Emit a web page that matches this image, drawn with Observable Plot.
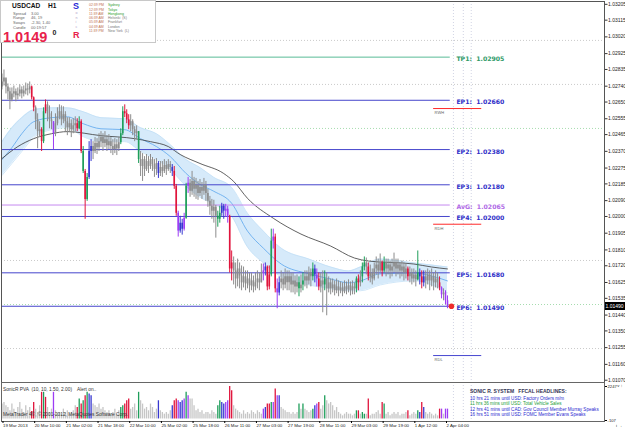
<!DOCTYPE html>
<html><head><meta charset="utf-8">
<script src="https://cdn.jsdelivr.net/npm/d3@7"></script>
<script src="https://cdn.jsdelivr.net/npm/@observablehq/plot@0.6"></script>
<style>
body{margin:0;background:#fff;}
#wrap{position:relative;width:625px;height:429px;overflow:hidden;background:#fff;font-family:"Liberation Sans",Arial,sans-serif;}
#wrap svg{position:absolute;left:0;}
.t{position:absolute;white-space:pre;line-height:1;}
</style></head><body><div id="wrap"></div>
<script>
// ---------------- DATA ----------------
const firstOpen = 1.02736;
const closes = [
1.02764,1.02787,1.02736,1.02708,1.02662,1.02696,1.02708,1.02685,1.02696,1.02719,
1.02696,1.02713,1.02724,1.02719,1.02736,1.02674,1.02617,1.02549,1.02482,1.02493,
1.02425,1.02595,1.02634,1.02583,1.02549,1.02538,1.02470,1.02527,1.02566,1.02595,
1.02549,1.02578,1.02538,1.02504,1.02527,1.02493,1.02515,1.02527,1.02498,1.02538,
1.02369,1.02256,1.02097,1.02222,1.02369,1.02397,1.02369,1.02414,1.02391,1.02425,
1.02448,1.02414,1.02436,1.02402,1.02425,1.02397,1.02380,1.02408,1.02385,1.02419,
1.02470,1.02595,1.02583,1.02549,1.02515,1.02538,1.02493,1.02470,1.02482,1.02323,
1.02284,1.02323,1.02267,1.02312,1.02284,1.02323,1.02295,1.02267,1.02301,1.02244,
1.02278,1.02256,1.02289,1.02267,1.02295,1.02278,1.02256,1.02171,1.02018,1.01917,
1.01962,1.01928,1.01990,1.02171,1.02188,1.02143,1.02199,1.02154,1.02176,1.02131,
1.02165,1.02143,1.02176,1.02131,1.02086,1.02058,1.02030,1.02052,1.02001,1.01984,
1.02018,1.02058,1.02030,1.02041,1.02001,1.01702,1.01736,1.01691,1.01645,1.01702,
1.01662,1.01623,1.01657,1.01617,1.01645,1.01606,1.01634,1.01600,1.01623,1.01645,
1.01623,1.01679,1.01691,1.01713,1.01600,1.01668,1.01860,1.01883,1.01589,1.01566,
1.01623,1.01645,1.01611,1.01657,1.01623,1.01657,1.01611,1.01634,1.01600,1.01623,
1.01589,1.01611,1.01634,1.01657,1.01634,1.01679,1.01657,1.01702,1.01668,1.01645,
1.01600,1.01634,1.01611,1.01645,1.01589,1.01623,1.01589,1.01611,1.01578,1.01600,
1.01578,1.01594,1.01572,1.01600,1.01583,1.01606,1.01578,1.01600,1.01589,1.01645,
1.01623,1.01657,1.01713,1.01736,1.01713,1.01657,1.01679,1.01645,1.01702,1.01724,
1.01691,1.01736,1.01691,1.01736,1.01702,1.01724,1.01691,1.01713,1.01736,1.01702,
1.01724,1.01691,1.01713,1.01679,1.01702,1.01657,1.01679,1.01645,1.01668,1.01640,
1.01679,1.01657,1.01623,1.01657,1.01634,1.01668,1.01634,1.01657,1.01623,1.01645,
1.01623,1.01594,1.01555,1.01566,1.01521,1.01490];
const highs = [
1.02809,1.02832,1.02775,1.02753,1.02730,1.02730,1.02741,1.02724,1.02730,1.02747,
1.02736,1.02741,1.02758,1.02753,1.02764,1.02741,1.02679,1.02628,1.02583,1.02538,
1.02504,1.02617,1.02662,1.02651,1.02628,1.02595,1.02538,1.02583,1.02617,1.02634,
1.02628,1.02623,1.02595,1.02561,1.02561,1.02549,1.02555,1.02566,1.02555,1.02566,
1.02549,1.02397,1.02267,1.02244,1.02425,1.02436,1.02425,1.02448,1.02442,1.02470,
1.02482,1.02470,1.02482,1.02459,1.02465,1.02448,1.02436,1.02442,1.02436,1.02448,
1.02498,1.02623,1.02634,1.02606,1.02578,1.02578,1.02549,1.02510,1.02515,1.02482,
1.02369,1.02357,1.02340,1.02352,1.02340,1.02352,1.02335,1.02323,1.02329,1.02312,
1.02312,1.02312,1.02323,1.02312,1.02323,1.02312,1.02295,1.02284,1.02182,1.02030,
1.02001,1.01984,1.02018,1.02188,1.02222,1.02210,1.02256,1.02222,1.02216,1.02199,
1.02210,1.02193,1.02216,1.02199,1.02154,1.02114,1.02097,1.02092,1.02063,1.02030,
1.02058,1.02075,1.02069,1.02069,1.02058,1.02007,1.01804,1.01770,1.01736,1.01758,
1.01736,1.01719,1.01713,1.01691,1.01691,1.01679,1.01679,1.01662,1.01679,1.01691,
1.01679,1.01730,1.01730,1.01736,1.01719,1.01719,1.01928,1.01928,1.01900,1.01645,
1.01657,1.01691,1.01679,1.01702,1.01691,1.01691,1.01679,1.01679,1.01662,1.01668,
1.01657,1.01668,1.01679,1.01691,1.01691,1.01713,1.01702,1.01736,1.01724,1.01702,
1.01679,1.01679,1.01691,1.01691,1.01679,1.01657,1.01645,1.01645,1.01634,1.01645,
1.01634,1.01628,1.01623,1.01634,1.01628,1.01640,1.01628,1.01634,1.01623,1.01657,
1.01668,1.01691,1.01736,1.01770,1.01764,1.01736,1.01724,1.01702,1.01736,1.01770,
1.01758,1.01787,1.01747,1.01770,1.01758,1.01758,1.01747,1.01758,1.01792,1.01758,
1.01758,1.01736,1.01747,1.01736,1.01730,1.01713,1.01713,1.01702,1.01702,1.01691,
1.01804,1.01702,1.01691,1.01691,1.01691,1.01702,1.01691,1.01702,1.01679,1.01691,
1.01679,1.01657,1.01600,1.01589,1.01578,1.01549];
const lows = [
1.02719,1.02741,1.02696,1.02662,1.02606,1.02651,1.02674,1.02651,1.02662,1.02679,
1.02668,1.02679,1.02691,1.02685,1.02696,1.02662,1.02595,1.02493,1.02385,1.02448,
1.02369,1.02414,1.02583,1.02538,1.02498,1.02493,1.02380,1.02453,1.02515,1.02549,
1.02515,1.02527,1.02482,1.02459,1.02482,1.02448,1.02470,1.02482,1.02482,1.02493,
1.02357,1.02244,1.01984,1.02086,1.02210,1.02312,1.02323,1.02357,1.02352,1.02369,
1.02391,1.02369,1.02391,1.02369,1.02380,1.02357,1.02346,1.02357,1.02346,1.02369,
1.02408,1.02459,1.02561,1.02527,1.02493,1.02482,1.02459,1.02425,1.02436,1.02301,
1.02227,1.02199,1.02227,1.02256,1.02244,1.02267,1.02256,1.02222,1.02233,1.02216,
1.02227,1.02222,1.02244,1.02233,1.02256,1.02244,1.02227,1.02154,1.02001,1.01883,
1.01905,1.01894,1.01917,1.01984,1.02131,1.02109,1.02120,1.02109,1.02097,1.02092,
1.02114,1.02097,1.02120,1.02086,1.02052,1.02007,1.01984,1.01962,1.01877,1.01939,
1.01962,1.02001,1.01984,1.01996,1.01962,1.01679,1.01634,1.01611,1.01589,1.01600,
1.01589,1.01578,1.01594,1.01578,1.01589,1.01566,1.01578,1.01566,1.01578,1.01589,
1.01578,1.01623,1.01634,1.01662,1.01578,1.01583,1.01657,1.01815,1.01566,1.01476,
1.01549,1.01589,1.01578,1.01589,1.01578,1.01578,1.01566,1.01566,1.01555,1.01566,
1.01544,1.01566,1.01578,1.01600,1.01589,1.01611,1.01600,1.01634,1.01623,1.01600,
1.01578,1.01566,1.01453,1.01578,1.01436,1.01566,1.01555,1.01566,1.01549,1.01561,
1.01544,1.01561,1.01544,1.01561,1.01555,1.01566,1.01549,1.01555,1.01555,1.01566,
1.01578,1.01600,1.01623,1.01691,1.01668,1.01634,1.01623,1.01611,1.01634,1.01668,
1.01645,1.01679,1.01657,1.01679,1.01657,1.01668,1.01645,1.01657,1.01679,1.01657,
1.01668,1.01645,1.01657,1.01634,1.01645,1.01634,1.01623,1.01611,1.01623,1.01600,
1.01634,1.01611,1.01589,1.01600,1.01589,1.01611,1.01578,1.01600,1.01578,1.01594,
1.01589,1.01578,1.01532,1.01521,1.01498,1.01476];
// PVA colour class of each bar: g grey, r climax red, n green, b blue, p violet
const pvaClass =
"gggggggggg"+"gggggrrggg"+"rnrgggpggg"+"ggggggggrn"+"rnrnbbgggg"+
"gggggggggg"+"nnrrrggggn"+"gggggggggb"+"ggggggbrrp"+"bbpnpggggg"+
"gggggggggn"+"nbbpprrggg"+"gggggggggg"+"ggpbrrnprp"+"bggggggggg"+
"ngnggggnbp"+"rggngggggg"+"gggggggggn"+"rgnngrgggg"+"ggrngggggg"+
"gggggrgggg"+"nbrbgggggg"+"grpgpp";
const volumes = [
1030,1145,915,795,565,1030,680,445,795,1145,
680,445,915,565,795,515,1145,680,445,915,
1845,1845,1495,795,445,680,1845,565,330,445,
330,680,445,565,330,445,565,915,795,1380,
1030,1260,1610,1845,1730,1610,1030,915,795,1030,
680,795,565,445,565,330,445,680,330,565,
795,915,1030,1260,1380,680,795,1030,565,1845,
1260,1030,680,795,565,1030,795,445,680,1260,
565,445,330,445,330,565,915,1260,1380,1260,
1145,1260,1380,1845,1610,1380,1380,915,565,680,
445,565,330,445,445,330,565,445,330,915,
1260,1145,1030,1145,1260,2240,1960,915,680,565,
445,330,565,330,445,330,565,445,330,565,
445,330,680,795,1030,1030,1145,1145,2080,1610,
1610,795,680,565,445,445,330,445,330,445,
1030,680,1030,680,565,445,565,680,915,1030,
1145,680,915,1610,1260,1030,1145,915,565,795,
445,330,215,330,445,330,330,215,330,565,
565,330,445,330,330,1380,215,330,330,445,
565,330,1145,1030,330,445,215,330,445,330,
445,215,330,330,445,565,215,330,445,330,
565,445,1145,795,445,330,445,330,215,330,
215,680,680,330,680,680];

// moving average (black) readings
const maBars  = [0,8,16,25,33,50,67,75,84,90,100,112,117,124,137,151,166,178,185,208,217,225];
const maPrice = [1.02329,1.02397,1.02442,1.02470,1.02482,1.02459,1.02442,1.02425,1.02397,1.02352,1.02301,1.02244,1.02199,1.02103,1.01990,1.01900,1.01832,1.01764,1.01747,1.01730,1.01713,1.01702];
// channel (blue band) readings
const bandBars   = [0,5,10,16,25,33,41,50,62,70,78,85,93,100,107,116,124,132,141,155,166,175,181,191,208,217,225];
const bandUpper  = [1.02425,1.02504,1.02561,1.02606,1.02617,1.02617,1.02595,1.02561,1.02555,1.02504,1.02470,1.02408,1.02323,1.02278,1.02222,1.02165,1.02018,1.01917,1.01820,1.01758,1.01713,1.01691,1.01713,1.01758,1.01736,1.01724,1.01713];
const bandMiddle = [1.02323,1.02391,1.02470,1.02538,1.02561,1.02566,1.02527,1.02498,1.02493,1.02442,1.02397,1.02340,1.02244,1.02182,1.02143,1.02075,1.01917,1.01820,1.01730,1.01674,1.01645,1.01623,1.01634,1.01674,1.01679,1.01662,1.01634];
const bandLower  = [1.02233,1.02301,1.02369,1.02448,1.02493,1.02504,1.02453,1.02425,1.02425,1.02369,1.02323,1.02267,1.02171,1.02109,1.02069,1.02001,1.01826,1.01736,1.01657,1.01611,1.01589,1.01578,1.01578,1.01611,1.01634,1.01611,1.01566];

// trade levels
const levelNames  = ["TP1","EP1","EP2","EP3","AvG","EP4","EP5","EP6"];
const levelPrices = [1.02905,1.02660,1.02380,1.02180,1.02065,1.02000,1.01680,1.01490];
const levelKinds  = ["tp","ep","ep","ep","avg","ep","ep","ep"];
// range levels
const rangeNames  = ["RWH","RDH","RDL"];
const rangePrices = [1.02613,1.01956,1.01210];
const rangeKinds  = ["high","high","low"];
// round-number dotted levels
const greyRound  = [1.03000,1.02750,1.01750,1.01250];
const greenRound = [1.02500,1.01500];
const futureMarks = [228,233,237];

const priceTicks = [1.03205,1.03115,1.03020,1.02925,1.02835,1.02740,1.02650,1.02555,1.02465,1.02370,1.02275,1.02185,1.02090,1.02000,1.01905,1.01810,1.01720,1.01625,1.01535,1.01440,1.01350,1.01255,1.01160,1.01070];
const timeTickBars = [0,16,32,48,64,80,96,112,128,144,160,176,192,208,224];
const timeLabels = ["19 Mar 2013","20 Mar 10:00","21 Mar 02:00","21 Mar 18:00","22 Mar 10:00","25 Mar 02:00","25 Mar 18:00","26 Mar 11:00","27 Mar 03:00","27 Mar 19:00","28 Mar 11:00","29 Mar 03:00","29 Mar 19:00","1 Apr 12:00","2 Apr 04:00"];
const volTicks = [2247,-107];

// ---------------- STYLE ----------------
const candleCol = {g:"#8c8c8c", r:"#e0143c", n:"#1e9e5a", b:"#3838d0", p:"#9d3cf5"};
const volCol    = {g:"#c6c6c6", r:"#e0143c", n:"#1e9e5a", b:"#3838d0", p:"#9d3cf5"};
const levelLine = {tp:"#58bb96", ep:"#4545cc", avg:"#c68af0"};
const levelText = {tp:"#2f9a68", ep:"#3030c8", avg:"#b06ae6"};
const rangeLine = {high:"#ff2a2a", low:"#4848d0"};

const xDomain = [-0.25, 304.3];
const bars = closes.map((c,i)=>({i, open: i===0 ? firstOpen : closes[i-1], close:c, high:highs[i], low:lows[i], col:candleCol[pvaClass[i]]}));
const vols = volumes.map((v,i)=>({i, v, col:volCol[pvaClass[i]]}));
const ma = maBars.map((b,k)=>({i:b, p:maPrice[k]}));
const band = bandBars.map((b,k)=>({i:b, u:bandUpper[k], m:bandMiddle[k], l:bandLower[k]}));
const levels = levelNames.map((n,k)=>({name:n, p:levelPrices[k], kind:levelKinds[k]}));
const ranges = rangeNames.map((n,k)=>({name:n, p:rangePrices[k], kind:rangeKinds[k]}));
const last = bars[bars.length-1];
const levelEnd = 226.4, labelAt = 229.5, rangeStart = 218, rangeEnd = 242.3;

const main = Plot.plot({
  width:625, height:383, marginTop:1, marginBottom:1, marginLeft:1, marginRight:21,
  style:{fontFamily:"Liberation Sans, Arial, sans-serif", background:"transparent", overflow:"visible"},
  x:{domain:xDomain, axis:null},
  y:{domain:[1.01057,1.03221], axis:null},
  color:{type:"identity"},
  marks:[
    Plot.ruleY(greyRound, {stroke:"#bdbdbd", strokeDasharray:"1,2", strokeWidth:0.8}),
    Plot.ruleY(greenRound, {stroke:"#8fd39a", strokeDasharray:"1,2", strokeWidth:0.8}),
    Plot.ruleX(futureMarks, {stroke:"#c4c8dc", strokeDasharray:"1,2", strokeWidth:0.8}),
    Plot.areaY(band, {x:"i", y1:"l", y2:"u", fill:"#d6eafa", curve:"monotone-x"}),
    Plot.lineY(band, {x:"i", y:"u", stroke:"#bddcf5", strokeWidth:0.7, curve:"monotone-x"}),
    Plot.lineY(band, {x:"i", y:"l", stroke:"#bddcf5", strokeWidth:0.7, curve:"monotone-x"}),
    Plot.lineY(band, {x:"i", y:"m", stroke:"#5aa6ee", strokeWidth:0.8, curve:"monotone-x"}),
    Plot.lineY(ma, {x:"i", y:"p", stroke:"#3a3a3a", strokeWidth:0.8, curve:"monotone-x"}),
    Plot.ruleY(levels, {y:"p", x1:xDomain[0], x2:levelEnd, stroke:d=>levelLine[d.kind], strokeWidth:1}),
    Plot.text(levels, {x:labelAt, y:"p", text:d=>`${d.name}:  ${d.p.toFixed(5)}`, fill:d=>levelText[d.kind],
      textAnchor:"start", fontWeight:"bold", fontSize:6.2, dy:2, fontFamily:"DejaVu Sans"}),
    Plot.ruleY(ranges, {y:"p", x1:rangeStart, x2:rangeEnd, stroke:d=>rangeLine[d.kind], strokeWidth:1}),
    Plot.text(ranges, {x:rangeStart+0.5, y:"p", text:"name", fill:"#666", fontSize:4, textAnchor:"start", dy:4.5}),
    Plot.ruleX(bars, {x:"i", y1:"low", y2:"high", stroke:"col", strokeWidth:1}),
    Plot.ruleX(bars, {x:"i", y1:"open", y2:"close", stroke:"col", strokeWidth:1.6}),
    Plot.dot([last], {x:d=>d.i+2, y:"close", r:2.8, fill:"#ee2b2b"}),
    Plot.frame({stroke:"#555", strokeWidth:1}),
    Plot.axisY(priceTicks, {anchor:"right", tickFormat:d=>d.toFixed(5), fontSize:5, tickSize:2.5, tickPadding:1, stroke:"#333", fill:"#222"})
  ]
});
main.style.top = "0px";

const ind = Plot.plot({
  width:625, height:48, marginTop:1, marginBottom:8, marginLeft:1, marginRight:21,
  style:{fontFamily:"Liberation Sans, Arial, sans-serif", background:"transparent", overflow:"visible"},
  x:{domain:xDomain, axis:null},
  y:{domain:[-107,2247], insetTop:4, insetBottom:1, axis:null},
  color:{type:"identity"},
  marks:[
    Plot.ruleX(futureMarks, {stroke:"#c4c8dc", strokeDasharray:"1,2", strokeWidth:0.8}),
    Plot.ruleX(vols, {x:"i", y1:0, y2:"v", stroke:"col", strokeWidth:1.3}),
    Plot.frame({stroke:"#666", strokeWidth:1}),
    Plot.axisY(volTicks, {anchor:"right", tickFormat:d=>String(d), fontSize:4.2, tickSize:2, tickPadding:1, fill:"#222"}),
    Plot.axisX(timeTickBars, {anchor:"bottom", tickFormat:d=>timeLabels[timeTickBars.indexOf(d)], textAnchor:"start",
      fontSize:4.4, tickSize:2, tickPadding:0.5, dx:1, fill:"#222"})
  ]
});
ind.style.top = "381px";

const wrap = document.getElementById("wrap");
wrap.appendChild(main);
wrap.appendChild(ind);

function txt(s, left, top, size, color, weight, extra){
  const d = document.createElement("div");
  d.className = "t";
  d.textContent = s;
  d.style.left = left+"px"; d.style.top = top+"px";
  d.style.fontSize = size+"px"; d.style.color = color;
  if (weight) d.style.fontWeight = weight;
  if (extra) Object.assign(d.style, extra);
  wrap.appendChild(d);
  return d;
}

// current price tag on the price axis
const yS = main.scale("y");
txt(last.close.toFixed(5), 604.5, yS.apply(last.close)-4, 5, "#fff", null,
  {background:"#000", width:"20px", height:"8px", lineHeight:"8px", paddingLeft:"1px"});

// info panel (top-left)
const box = document.createElement("div");
Object.assign(box.style,{position:"absolute",left:"0px",top:"0px",width:"156px",height:"43px",background:"#fff",border:"1px solid #c8c8c8",boxSizing:"border-box"});
wrap.appendChild(box);
txt("USDCAD", 12, 3, 6.6, "#111", "bold");
txt("H1", 48, 3, 6.6, "#111", "bold");
const statNames = ["Spread","Range","Swaps","Candle"];
const statVals  = ["3.00","46, 19","-2.30, 1.40","00:19:57"];
statNames.forEach((s,k)=>{ txt(s, 13, 11.6+4.8*k, 4, "#666"); txt(statVals[k], 31, 11.6+4.8*k, 4, "#666"); });
txt("1.0149", 3, 29.6, 14.5, "#e8204a", "bold");
txt("0", 52.5, 29, 7, "#222", "bold");
txt("S", 73, 2.2, 9, "#2a2ad6", "bold");
["o","n","i","c"].forEach((s,k)=>txt(s, 75.5, 12+4.5*k, 3.6, "#b0a0c8"));
txt("R", 73, 31, 9, "#e8204a", "bold");
const clockTimes = ["02:39 PM","12:39 PM","11:39 AM","06:39 AM","05:39 AM","04:39 AM","11:39 PM"];
const clockCities = ["Sydney","Tokyo","Hongkong","Helsinki  (S)","Frankfurt","London","New York  (L)"];
const cityOpen = [true,true,true,false,false,false,false];
clockTimes.forEach((s,k)=>{ txt(s, 89, 4.2+4.3*k, 3.5, "#c07050"); txt(clockCities[k], 108, 4.2+4.3*k, 3.5, cityOpen[k] ? "#2e9e2e" : "#777"); });

// indicator panel annotations
txt("SonicR PVA  (10, 10, 1.50, 2.00)    Alert on..", 3, 387.5, 4.8, "#333");
txt("MetaTrader 4\u00a9, \u00a9 2001-2012, MetaQuotes Software Corp.", 3, 412.8, 4.8, "#333");
txt("SONIC R. SYSTEM   FFCAL HEADLINES:", 470, 389, 5, "#333355", "bold");
const headlines = ["10 hrs 21 mins until USD: Factory Orders m/m","11 hrs 36 mins until USD: Total Vehicle Sales","12 hrs 41 mins until CAD: Gov Council Member Murray Speaks","16 hrs 51 mins until USD: FOMC Member Evans Speaks"];
const headlineCol = ["#2b2bd0","#1e9e3a","#2b2bd0","#2b2bd0"];
headlines.forEach((s,k)=>txt(s, 470, 396.6+5.6*k, 4.6, headlineCol[k]));
</script>
</body></html>
